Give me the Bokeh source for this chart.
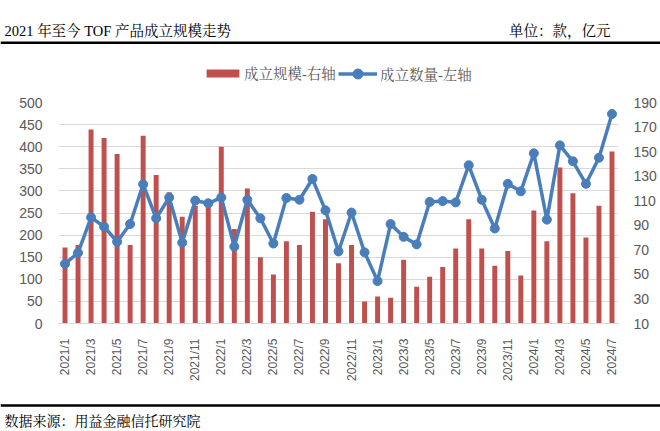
import math
from bokeh.plotting import figure
from bokeh.models import Range1d, LinearAxis, FixedTicker, Legend, LegendItem, Label, Span
from bokeh.layouts import column, row
from bokeh.embed import file_html
from bokeh.resources import INLINE

# ---------------- data ----------------
months = [
    "2021/1", "2021/2", "2021/3", "2021/4", "2021/5", "2021/6", "2021/7", "2021/8",
    "2021/9", "2021/10", "2021/11", "2021/12",
    "2022/1", "2022/2", "2022/3", "2022/4", "2022/5", "2022/6", "2022/7", "2022/8",
    "2022/9", "2022/10", "2022/11", "2022/12",
    "2023/1", "2023/2", "2023/3", "2023/4", "2023/5", "2023/6", "2023/7", "2023/8",
    "2023/9", "2023/10", "2023/11", "2023/12",
    "2024/1", "2024/2", "2024/3", "2024/4", "2024/5", "2024/6", "2024/7",
]
# 成立规模 (亿元) - right axis, bars
scale = [
    72, 74, 168, 161, 148, 74, 163, 131, 117, 97, 106, 105,
    154, 87, 120, 64, 50, 77, 74, 101, 95, 59, 74, 28,
    32, 31, 62, 40, 48, 56, 71, 95, 71, 57, 69, 49,
    102, 77, 137, 116, 80, 106, 150,
]
# 成立数量 (款) - left axis, line
count = [
    135, 160, 240, 219, 185, 225, 315, 238, 285, 183, 278, 272,
    285, 174, 280, 238, 181, 284, 280, 327, 256, 163, 251, 161,
    96, 225, 196, 179, 275, 277, 274, 358, 280, 215, 316, 299,
    385, 235, 403, 367, 316, 375, 474,
]
left_ticks = [0, 50, 100, 150, 200, 250, 300, 350, 400, 450, 500]
right_ticks = [10, 30, 50, 70, 90, 110, 130, 150, 170, 190]
title_text = "2021 年至今 TOF 产品成立规模走势"
unit_text = "单位：款，亿元"
source_text = "数据来源：用益金融信托研究院"
bar_label = "成立规模-右轴"
line_label = "成立数量-左轴"

# ---------------- styles ----------------
BAR_C = "#C0504D"
LINE_C = "#4A7EBB"
GRID_C = "#D9D9D9"
TXT_C = "#595959"
SANS = "Liberation Sans"
SERIF = "Liberation Serif, Noto Serif CJK SC, Noto Sans CJK SC"
W = 660
BAR_STYLE = dict(fill_color=BAR_C, line_color=None)
LINE_STYLE = dict(line_color=LINE_C, line_width=3.5)
PT_STYLE = dict(marker="circle", size=9, fill_color=LINE_C, line_color=LINE_C)

xs = list(range(len(months)))


def blank(h):
    f = figure(width=W, height=h, x_range=Range1d(0, W), y_range=Range1d(0, h),
               output_backend="svg", toolbar_location=None,
               x_axis_type=None, y_axis_type=None, min_border=0)
    f.outline_line_color = None
    f.xgrid.visible = False
    f.ygrid.visible = False
    return f


# ---------------- header (title, rule, legend) ----------------
HDR_H = 92
hdr = blank(HDR_H)
hdr.add_layout(Label(x=4, y=HDR_H - 30.7, text=title_text, text_font=SERIF,
                     text_font_size="14.5px", text_color="black",
                     text_baseline="middle", text_align="left"))
hdr.add_layout(Label(x=610, y=HDR_H - 30.7, text=unit_text, text_font=SERIF,
                     text_font_size="14.5px", text_color="black",
                     text_baseline="middle", text_align="right"))
hdr.add_layout(Span(location=HDR_H - 42.3, dimension="width", line_color="black",
                    line_width=2.5))

# legend swatches: hidden copies of the series (same styles), shown only in the legend
kb = hdr.vbar(x=xs, top=scale, width=0.38, visible=False, **BAR_STYLE)
kl = hdr.line(x=xs, y=count, visible=False, **LINE_STYLE)
ks = hdr.scatter(x=xs, y=count, visible=False, **PT_STYLE)
LEG_Y = HDR_H - 73
LEG_COMMON = dict(orientation="horizontal", label_height=20, padding=0, margin=0,
                  border_line_alpha=0, background_fill_alpha=0,
                  inactive_fill_alpha=0, click_policy="none",
                  label_text_font=SERIF, label_text_font_size="14.5px",
                  label_text_color=TXT_C)
leg1 = Legend(items=[LegendItem(label=bar_label, renderers=[kb])],
              location=(202, LEG_Y - 10), glyph_width=41, glyph_height=10,
              label_standoff=1, **LEG_COMMON)
leg2 = Legend(items=[LegendItem(label=line_label, renderers=[kl, ks])],
              location=(338, LEG_Y - 12.5), glyph_width=39, glyph_height=25,
              label_standoff=3, **LEG_COMMON)
hdr.add_layout(leg1)
hdr.add_layout(leg2)

# ---------------- main chart ----------------
p = figure(width=W, height=306, x_range=Range1d(-0.5, len(months) - 0.5),
           y_range=Range1d(left_ticks[0], left_ticks[-1]),
           output_backend="svg", toolbar_location=None,
           min_border_left=58, min_border_right=42, min_border_top=10, min_border_bottom=75)
p.extra_y_ranges = {"right": Range1d(right_ticks[0], right_ticks[-1])}
p.outline_line_color = None
p.xgrid.visible = False
p.ygrid.grid_line_color = GRID_C
p.ygrid.grid_line_width = 1

bars = p.vbar(x=xs, top=scale, bottom=right_ticks[0], width=0.38, y_range_name="right",
              **BAR_STYLE)
ln = p.line(x=xs, y=count, **LINE_STYLE)
pts = p.scatter(x=xs, y=count, **PT_STYLE)

# left axis
la = p.yaxis[0]
la.ticker = FixedTicker(ticks=left_ticks)
# right axis
ra = LinearAxis(y_range_name="right", ticker=FixedTicker(ticks=right_ticks))
p.add_layout(ra, "right")
for ax in (la, ra):
    ax.axis_line_color = None
    ax.major_tick_line_color = None
    ax.minor_tick_line_color = None
    ax.major_label_text_font = SANS
    ax.major_label_text_font_size = "14px"
    ax.major_label_text_color = TXT_C
la.major_label_standoff = 10
ra.major_label_standoff = 9

xa = p.xaxis[0]
xa.ticker = FixedTicker(ticks=xs[::2])
xa.major_label_overrides = {i: months[i] for i in xs}
xa.major_label_orientation = math.pi / 2
xa.major_label_text_font = SANS
xa.major_label_text_font_size = "12px"
xa.major_label_text_color = TXT_C
xa.major_label_standoff = 9
xa.axis_line_color = GRID_C
xa.major_tick_line_color = None
xa.minor_tick_line_color = None

# ---------------- footer ----------------
FTR_H = 30
ftr = blank(FTR_H)
ftr.add_layout(Span(location=FTR_H - 7, dimension="width", line_color="black", line_width=2.5))
ftr.add_layout(Label(x=4, y=FTR_H - 22.7, text=source_text, text_font=SERIF,
                     text_font_size="14px", text_color="black",
                     text_baseline="middle", text_align="left"))

layout = column(row(hdr), row(p), row(ftr), spacing=0)
open("out.html", "w").write(file_html(layout, INLINE))
